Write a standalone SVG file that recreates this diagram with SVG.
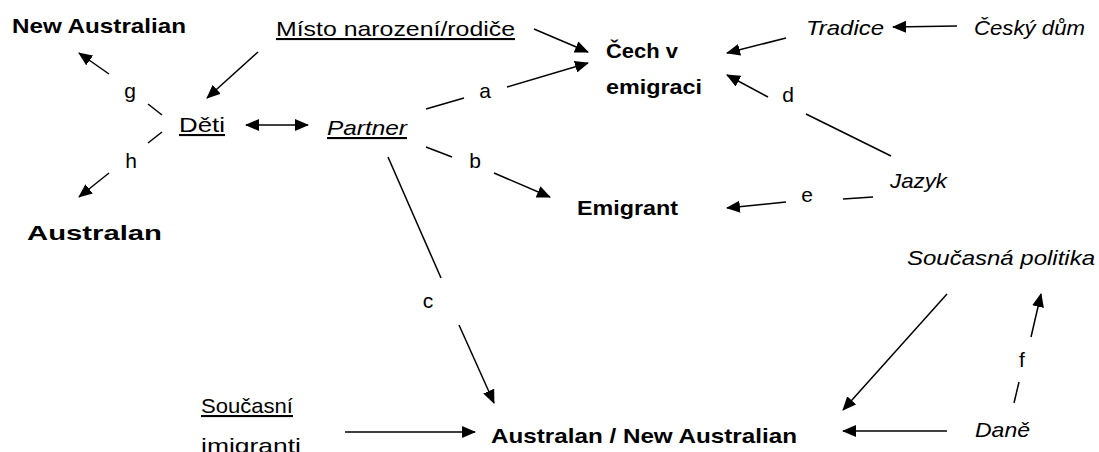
<svg xmlns="http://www.w3.org/2000/svg" width="1099" height="452" viewBox="0 0 1099 452">
<style>
text{font-family:"Liberation Sans",Arial,sans-serif;font-size:21px;fill:#000}
.b{font-weight:bold}
.i{font-style:italic}
.u{text-decoration:underline}
.lbl{text-anchor:middle}
.c line{stroke:#000;stroke-width:1.5}
.c .ar{marker-end:url(#ah)}
</style>
<defs>
<marker id="ah" markerUnits="userSpaceOnUse" markerWidth="14" markerHeight="12" refX="13" refY="6" orient="auto">
<path d="M0,0 L14,6 L0,12 Z" fill="#000"/>
</marker>
<marker id="as" markerUnits="userSpaceOnUse" markerWidth="14" markerHeight="12" refX="1" refY="6" orient="auto">
<path d="M14,0 L0,6 L14,12 Z" fill="#000"/>
</marker>
</defs>
<rect width="1099" height="452" fill="#fff"/>
<g id="n-newaus"><text class="b" x="12" y="33" textLength="174" lengthAdjust="spacingAndGlyphs">New Australian</text></g>
<g id="n-misto"><text class="u" x="276" y="36" textLength="239" lengthAdjust="spacingAndGlyphs">Místo narození/rodiče</text></g>
<g id="n-cech"><text class="b" x="606" y="58" textLength="72" lengthAdjust="spacingAndGlyphs">Čech v</text><text class="b" x="606" y="94" textLength="96" lengthAdjust="spacingAndGlyphs">emigraci</text></g>
<g id="n-tradice"><text class="i" x="806" y="35" textLength="78" lengthAdjust="spacingAndGlyphs">Tradice</text></g>
<g id="n-cesky"><text class="i" x="974" y="35" textLength="111" lengthAdjust="spacingAndGlyphs">Český dům</text></g>
<g id="n-deti"><text class="u" x="179" y="132" textLength="46" lengthAdjust="spacingAndGlyphs">Děti</text></g>
<g id="n-partner"><text class="i u" x="327" y="135" textLength="80" lengthAdjust="spacingAndGlyphs">Partner</text></g>
<g id="n-australan"><text class="b" x="27" y="240" textLength="135" lengthAdjust="spacingAndGlyphs">Australan</text></g>
<g id="n-emigrant"><text class="b" x="577" y="215" textLength="101" lengthAdjust="spacingAndGlyphs">Emigrant</text></g>
<g id="n-jazyk"><text class="i" x="890" y="188" textLength="57" lengthAdjust="spacingAndGlyphs">Jazyk</text></g>
<g id="n-politika"><text class="i" x="907" y="265" textLength="188" lengthAdjust="spacingAndGlyphs">Současná politika</text></g>
<g id="n-soucasni"><text class="u" x="201" y="413" textLength="92" lengthAdjust="spacingAndGlyphs">Současní</text><text x="201" y="453" textLength="100" lengthAdjust="spacingAndGlyphs">imigranti</text></g>
<g id="n-ausnew"><text class="b" x="491" y="443" textLength="306" lengthAdjust="spacingAndGlyphs">Australan / New Australian</text></g>
<g id="n-dane"><text class="i" x="975" y="437" textLength="55" lengthAdjust="spacingAndGlyphs">Daně</text></g>
<g id="connectors" class="c">
<line class="ar" x1="109" y1="74" x2="79" y2="53"/>
<line x1="148" y1="104" x2="162" y2="115"/>
<line x1="148" y1="143" x2="162" y2="132"/>
<line class="ar" x1="109" y1="173" x2="79" y2="197"/>
<line class="ar" x1="258" y1="52" x2="207" y2="98"/>
<line x1="246" y1="125" x2="308" y2="125" marker-start="url(#as)" marker-end="url(#ah)"/>
<line class="ar" x1="534" y1="29" x2="588" y2="52"/>
<line x1="426" y1="109" x2="464" y2="98"/>
<line class="ar" x1="507" y1="87" x2="588" y2="63"/>
<line x1="426" y1="147" x2="452" y2="157"/>
<line class="ar" x1="494" y1="173" x2="550" y2="197"/>
<line x1="388" y1="157" x2="441" y2="278"/>
<line class="ar" x1="459" y1="325" x2="494" y2="403"/>
<line class="ar" x1="786" y1="38" x2="727" y2="53"/>
<line class="ar" x1="957" y1="26" x2="893" y2="27"/>
<line class="ar" x1="768" y1="97" x2="727" y2="75"/>
<line x1="806" y1="114" x2="891" y2="156"/>
<line x1="843" y1="199" x2="873" y2="197"/>
<line class="ar" x1="786" y1="202" x2="727" y2="208"/>
<line class="ar" x1="947" y1="294" x2="843" y2="410"/>
<line class="ar" x1="947" y1="431" x2="843" y2="431"/>
<line x1="1014" y1="403" x2="1019" y2="382"/>
<line class="ar" x1="1031" y1="337" x2="1041" y2="294"/>
<line class="ar" x1="345" y1="432" x2="475" y2="432"/>
</g>
<g id="labels">
<text class="lbl" x="130" y="98">g</text>
<text class="lbl" x="131" y="168">h</text>
<text class="lbl" x="485" y="98">a</text>
<text class="lbl" x="475" y="168">b</text>
<text class="lbl" x="428" y="308">c</text>
<text class="lbl" x="788" y="102">d</text>
<text class="lbl" x="807" y="202">e</text>
<text class="lbl" x="1022" y="367">f</text>
</g>
</svg>
